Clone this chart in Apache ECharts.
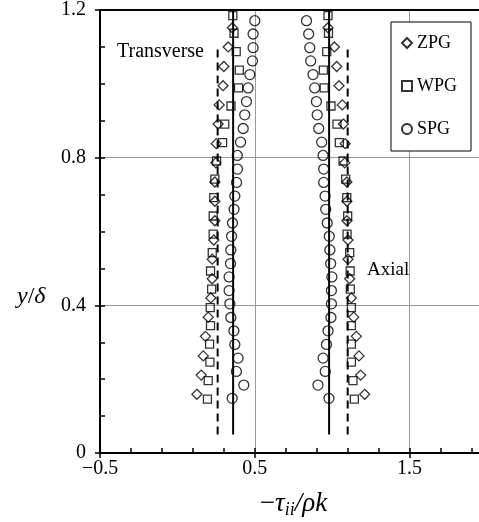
<!DOCTYPE html>
<html><head><meta charset="utf-8">
<script src="https://cdn.jsdelivr.net/npm/echarts@6/dist/echarts.min.js"></script>
<style>html,body{margin:0;padding:0;background:#fff}#c{width:479px;height:522px}</style>
</head><body><div id="c"></div>
<script>
// y/delta positions and -tau_ii/(rho k) values (bottom to top)
const zpgY = [0.159,0.211,0.263,0.316,0.368,0.420,0.472,0.525,0.577,0.629,0.682,0.734,0.786,0.838,0.891,0.943,0.995,1.047,1.100,1.152];
const zpgTransverse = [0.126,0.154,0.167,0.181,0.199,0.216,0.225,0.225,0.235,0.242,0.242,0.242,0.248,0.251,0.263,0.270,0.295,0.300,0.328,0.355];
const zpgAxial = [1.210,1.184,1.173,1.156,1.139,1.124,1.113,1.102,1.102,1.095,1.095,1.095,1.081,1.084,1.072,1.065,1.044,1.029,1.014,0.973];

const wpgY = [0.146,0.196,0.246,0.295,0.345,0.394,0.444,0.493,0.543,0.593,0.642,0.692,0.742,0.791,0.841,0.891,0.940,0.989,1.037,1.087,1.137,1.185];
const wpgTransverse = [0.194,0.199,0.210,0.208,0.214,0.212,0.221,0.214,0.225,0.231,0.231,0.235,0.242,0.253,0.292,0.306,0.346,0.395,0.400,0.380,0.366,0.358];
const wpgAxial = [1.143,1.134,1.124,1.124,1.124,1.124,1.117,1.116,1.113,1.096,1.100,1.094,1.087,1.070,1.046,1.031,0.992,0.948,0.943,0.965,0.976,0.973];

const spgY = [0.148,0.184,0.221,0.257,0.294,0.331,0.367,0.404,0.440,0.477,0.513,0.550,0.587,0.623,0.660,0.696,0.733,0.769,0.806,0.842,0.879,0.916,0.952,0.989,1.025,1.062,1.098,1.135,1.171];
const spgTransverse = [0.354,0.429,0.381,0.392,0.371,0.365,0.345,0.339,0.334,0.334,0.343,0.345,0.350,0.356,0.366,0.371,0.382,0.388,0.387,0.408,0.425,0.435,0.446,0.457,0.468,0.485,0.489,0.489,0.500];
const spgAxial = [0.979,0.908,0.955,0.941,0.963,0.973,0.992,0.995,0.995,0.998,0.990,0.985,0.981,0.968,0.958,0.954,0.945,0.945,0.941,0.932,0.913,0.903,0.898,0.887,0.876,0.861,0.855,0.848,0.834];

const solidLineX = [0.36, 0.98];
const solidLineY = [0.05, 1.2];
const dashedLineX = [0.26, 1.10];
const dashedLineY = [0.05, 1.1];

const xAxisMin = -0.5, xAxisMax = 2.0, xLabelStep = 1.0, xTickStep = 0.2;
const yAxisMin = 0, yAxisMax = 1.2, yLabelStep = 0.4, yTickStep = 0.1;

const FONT = 'Liberation Serif';

function pts(ys, a, b) {
  return ys.map((y, i) => [a[i], y]).concat(ys.map((y, i) => [b[i], y]));
}
const hollow = {color: 'rgba(0,0,0,0)', borderColor: '#000', borderWidth: 1.3};

const series = [
  {name: 'ZPG', type: 'scatter', symbol: 'diamond', symbolSize: 10, itemStyle: hollow, data: pts(zpgY, zpgTransverse, zpgAxial), z: 5},
  {name: 'WPG', type: 'scatter', symbol: 'rect', symbolSize: 8, itemStyle: hollow, data: pts(wpgY, wpgTransverse, wpgAxial), z: 5},
  {name: 'SPG', type: 'scatter', symbol: 'circle', symbolSize: 10, itemStyle: hollow, data: pts(spgY, spgTransverse, spgAxial), z: 5}
];
solidLineX.forEach(x => series.push({type: 'line', symbol: 'none', silent: true, z: 4,
  lineStyle: {color: '#000', width: 2}, data: solidLineY.map(y => [x, y])}));
dashedLineX.forEach(x => series.push({type: 'line', symbol: 'none', silent: true, z: 4,
  lineStyle: {color: '#000', width: 2, type: [8, 5]}, data: dashedLineY.map(y => [x, y])}));

function fmt(v) {
  if (Math.abs(v) < 1e-9) return '0';
  const s = Math.abs(v).toFixed(1);
  return v < 0 ? '\u2212' + s : s;
}

const gridLine = {show: true, lineStyle: {color: '#9a9a9a', width: 1}};
const noShow = {show: false};

const chart = echarts.init(document.getElementById('c'), null, {renderer: 'canvas'});
chart.setOption({
  animation: false,
  backgroundColor: '#fff',
  grid: {left: 100, right: -8, top: 10, bottom: 69, containLabel: false, outerBoundsMode: 'none'},
  legend: {
    data: [{name: 'ZPG', icon: 'diamond'}, {name: 'WPG', icon: 'rect'}, {name: 'SPG', icon: 'circle'}],
    orient: 'vertical', left: 391, top: 22,
    padding: [12, 14, 13, 10], itemGap: 25, itemWidth: 10, itemHeight: 10,
    backgroundColor: '#fff', borderColor: '#000', borderWidth: 1,
    textStyle: {fontFamily: FONT, fontSize: 18, color: '#000'},
    selectedMode: false
  },
  xAxis: [{
    type: 'value', position: 'bottom', min: xAxisMin, max: xAxisMax, interval: xLabelStep,
    axisLine: {onZero: false, lineStyle: {color: '#000', width: 2}},
    axisTick: {inside: false, length: 5, lineStyle: {color: '#000', width: 1.5}},
    axisLabel: {formatter: fmt, fontFamily: FONT, fontSize: 20, color: '#000', margin: 6, showMaxLabel: false},
    splitLine: gridLine,
    name: '\u2212{i|\u03c4}{s|ii}{i|/\u03c1k}',
    nameLocation: 'middle', nameGap: 36,
    nameTextStyle: {fontFamily: FONT, fontSize: 27, color: '#000',
      rich: {i: {fontFamily: FONT, fontSize: 27, fontStyle: 'italic', color: '#000', lineHeight: 30, verticalAlign: 'middle'},
             s: {fontFamily: FONT, fontSize: 18, fontStyle: 'italic', color: '#000', lineHeight: 18, verticalAlign: 'bottom'}}}
  }, {
    type: 'value', position: 'bottom', min: xAxisMin, max: xAxisMax, interval: xTickStep,
    axisLine: noShow, axisLabel: noShow, splitLine: noShow,
    axisTick: {show: true, inside: true, length: 5, lineStyle: {color: '#000', width: 1.5}}
  }, {
    type: 'value', position: 'top', min: xAxisMin, max: xAxisMax,
    axisLine: {show: true, onZero: false, lineStyle: {color: '#000', width: 2}},
    axisTick: noShow, axisLabel: noShow, splitLine: noShow
  }],
  yAxis: [{
    type: 'value', position: 'left', min: yAxisMin, max: yAxisMax, interval: yLabelStep,
    axisLine: {show: true, onZero: false, lineStyle: {color: '#000', width: 2}},
    axisTick: {show: true, inside: false, length: 5, lineStyle: {color: '#000', width: 1.5}},
    axisLabel: {formatter: fmt, fontFamily: FONT, fontSize: 20, color: '#000', margin: 14},
    splitLine: gridLine
  }, {
    type: 'value', position: 'left', min: yAxisMin, max: yAxisMax, interval: yTickStep,
    axisLine: {show: false, onZero: false}, axisLabel: noShow, splitLine: noShow,
    axisTick: {show: true, inside: true, length: 5, lineStyle: {color: '#000', width: 1.5}}
  }],
  graphic: [
    {type: 'text', right: 275, top: 42, style: {text: 'Transverse', font: '20px "Liberation Serif"', fill: '#000'}},
    {type: 'text', left: 367, top: 261, style: {text: 'Axial', font: '19px "Liberation Serif"', fill: '#000'}},
    {type: 'text', left: 17, top: 285, style: {text: '{i|y}{n|/}{i|\u03b4}', font: '24px "Liberation Serif"', fill: '#000',
      rich: {i: {fontFamily: FONT, fontSize: 24, fontStyle: 'italic', fill: '#000'}, n: {fontFamily: FONT, fontSize: 24, fill: '#000'}}}}
  ],
  series: series
});
</script>
</body></html>
